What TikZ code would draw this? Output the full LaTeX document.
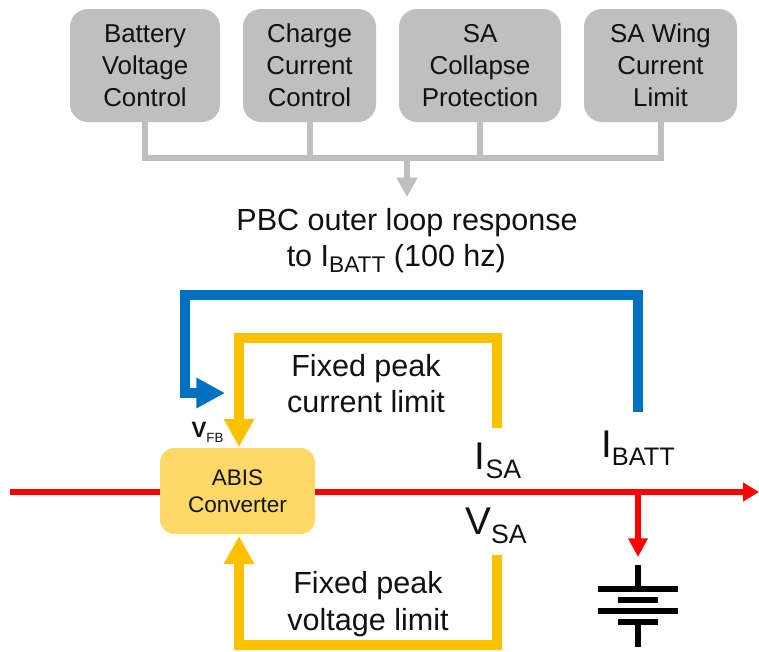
\documentclass[tikz,border=0pt]{standalone}
\usepackage{fontspec}
\setmainfont{Liberation Sans}
\usetikzlibrary{arrows.meta}
\definecolor{grayb}{HTML}{BFBFBF}
\definecolor{blueline}{HTML}{0070C0}
\definecolor{orangeline}{HTML}{FFC000}
\definecolor{convfill}{HTML}{FFD966}
\definecolor{txt}{HTML}{111111}
\newcommand\subtxt[2]{\raisebox{-0.22em}{\fontsize{#1}{#1}\selectfont #2}}
\tikzset{
  ctrlbox/.style={fill=grayb,rounded corners=13.5pt,minimum height=84.75pt,inner sep=0pt,align=center,
    font=\fontsize{19.4pt}{24pt}\selectfont,text=txt},
  label18/.style={align=center,inner sep=0pt,text=txt,font=\fontsize{22.9pt}{27.5pt}\selectfont},
  busline/.style={draw=grayb,line width=4.5pt},
  bluewire/.style={draw=blueline,line width=7.5pt,-{Triangle[length=21.5pt,width=21.5pt]}},
  orangewire/.style={draw=orangeline,line width=7.5pt,-{Triangle[length=21pt,width=21.5pt]}},
  redwire/.style={draw=red,line width=4.5pt},
  batt/.style={draw=black,line width=4.5pt},
  siglabel/.style={inner sep=0pt,text=txt,font=\fontsize{29pt}{29pt}\selectfont},
}
\begin{document}
\begin{tikzpicture}[x=0.75pt,y=-0.75pt]
\useasboundingbox (0,0) rectangle (759,651);
% control boxes
\node[ctrlbox,minimum width=112.5pt] (b1) at (145,65.5) {Battery\\Voltage\\Control};
\node[ctrlbox,minimum width=99.75pt] (b2) at (309.5,65.5) {Charge\\Current\\Control};
\node[ctrlbox,minimum width=121.5pt] (b3) at (480,65.5) {SA\\Collapse\\Protection};
\node[ctrlbox,minimum width=114.75pt] (b4) at (660.5,65.5) {SA Wing\\Current\\Limit};
\coordinate (bus) at (407,158);
\coordinate (busend) at (407,197);
\draw[busline] (b1.south) |- (bus);
\draw[busline] (b4.south) |- (bus);
\draw[busline] (b2.south) -- (b2.south |- bus);
\draw[busline] (b3.south) -- (b3.south |- bus);
\draw[busline,-{Triangle[length=14.5pt,width=15pt]}] (bus) -- (busend);
% labels
\node[label18] (pbc) at (407,240.5) {PBC outer loop response\\[-0.5pt]\hspace*{-16pt}to I\subtxt{17pt}{BATT} (100 hz)};
\node[label18] (fpc) at (366,383.5) {Fixed peak\\current limit};
\node[label18] (fpv) at (368,604) {Fixed peak\\voltage limit};
% converter
\node[fill=convfill,rounded corners=11pt,minimum width=116.25pt,minimum height=64.5pt,inner sep=0pt,align=center,text=txt,
  font=\fontsize{16.9pt}{20pt}\selectfont] (conv) at (237.5,491) {ABIS\\Converter};
% red bus
\coordinate (rs) at (10,492);
\coordinate (re) at (759,492);
\coordinate (rj) at (638,492);
\coordinate (bt) at (638,557);
\draw[redwire,-{Triangle[length=12pt,width=13.5pt]}] (rs) -- (conv.west |- rs) (conv.east |- rs) -- (re);
\draw[redwire,-{Triangle[length=14pt,width=14pt]}] (rj) -- (bt);
% feedback wires
\coordinate (ibt) at (638,412);
\coordinate (vfb) at (225,393);
\draw[bluewire] (ibt) -- (638,295) -- (185,295) -- (185,393) -- (vfb);
\coordinate (isa) at (497,428);
\coordinate (vsa) at (497,555);
\draw[orangewire] (isa) -- (497,338) -- (239,338) -- (239,447);
\draw[orangewire] (vsa) -- (497,645) -- (239,645) -- (239,536);
% signal labels
\node[inner sep=0pt,text=txt,font=\bfseries\fontsize{16.7pt}{16pt}\selectfont] (vfbl) at (207.5,432) {V\subtxt{10pt}{\normalfont FB}};
\node[siglabel] (isal) at (498,461) {I\subtxt{20pt}{SA}};
\node[siglabel] (vsal) at (496,526) {V\subtxt{20pt}{SA}};
\node[siglabel] (ibl) at (638,448) {I\subtxt{19pt}{BATT}};
% battery
\coordinate (c1) at (638,589);
\coordinate (c2) at (638,600);
\coordinate (c3) at (638,611);
\coordinate (c4) at (638,622);
\draw[batt] (638,565) -- (c1);
\draw[batt] (598,589) -- (678,589);
\draw[batt] (618,600) -- (658,600);
\draw[batt] (598,611) -- (678,611);
\draw[batt] (618,622) -- (658,622);
\draw[batt] (c4) -- (638,647);
\end{tikzpicture}
\end{document}
